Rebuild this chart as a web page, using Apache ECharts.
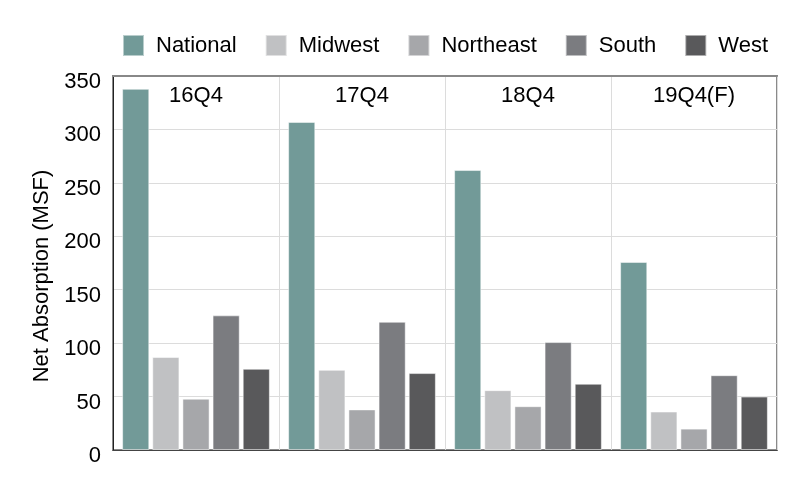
<!DOCTYPE html>
<html>
<head>
<meta charset="utf-8">
<script src="https://cdn.jsdelivr.net/npm/echarts@6/dist/echarts.min.js"></script>
<style>
html,body{margin:0;padding:0;background:#fff;}
#chart{width:800px;height:483px;}
</style>
</head>
<body>
<div id="chart"></div>
<script>
const categories = ['16Q4', '17Q4', '18Q4', '19Q4(F)'];
const seriesNames = ['National', 'Midwest', 'Northeast', 'South', 'West'];
const national = [338, 307, 262, 176];
const midwest = [87, 75, 56, 36];
const northeast = [48, 38, 41, 20];
const south = [126, 120, 101, 70];
const west = [76, 72, 62, 50];
const colors = ['#729a98', '#c0c1c3', '#a6a7aa', '#7b7c80', '#59595b'];
const yTicks = { min: 0, max: 350, interval: 50 };

const values = [national, midwest, northeast, south, west];
const FONT = '"Liberation Sans", Arial, Helvetica, sans-serif';

const chart = echarts.init(document.getElementById('chart'), null, { renderer: 'canvas' });
chart.setOption({
  animation: false,
  backgroundColor: '#fff',
  color: colors,
  textStyle: { fontFamily: FONT },
  legend: {
    top: 29,
    left: 117,
    itemWidth: 21,
    itemHeight: 21,
    itemGap: 28,
    icon: 'rect',
    textStyle: { fontSize: 22, color: '#000', fontFamily: FONT, padding: [0, 0, 0, 7] },
    data: seriesNames
  },
  grid: {
    left: 113, right: 23, top: 76, bottom: 33,
    show: true, borderColor: '#8a8a8a', borderWidth: 2, backgroundColor: 'transparent'
  },
  xAxis: [
    {
      type: 'category',
      data: categories,
      position: 'bottom',
      axisLine: { show: true, lineStyle: { color: '#444', width: 1 } },
      axisTick: { show: false },
      axisLabel: { show: false },
      splitLine: { show: true, lineStyle: { color: '#dcdcdc', width: 1 } }
    },
    {
      type: 'category',
      data: categories,
      position: 'top',
      axisLine: { show: true, lineStyle: { color: '#888', width: 2 } },
      axisTick: { show: false },
      axisLabel: { show: true, inside: true, margin: 9, fontSize: 22, color: '#000', fontFamily: FONT },
      splitLine: { show: false }
    }
  ],
  yAxis: {
    type: 'value',
    min: yTicks.min, max: yTicks.max, interval: yTicks.interval,
    name: 'Net Absorption (MSF)',
    nameLocation: 'middle',
    nameGap: 59,
    nameTextStyle: { fontSize: 22, color: '#000', fontFamily: FONT, padding: [0, 26, 0, 0] },
    axisLine: { show: true, lineStyle: { color: '#222', width: 1 } },
    axisTick: { show: false },
    axisLabel: {
      margin: 12,
      formatter: '{t|{value}}',
      rich: { t: { fontSize: 22, color: '#000', fontFamily: FONT, padding: [12, 0, 0, 0] } }
    },
    splitLine: { show: true, lineStyle: { color: '#dcdcdc', width: 1 } }
  },
  series: seriesNames.map((name, i) => ({
    name: name,
    type: 'bar',
    xAxisIndex: 0,
    data: values[i],
    barGap: '11%',
    barCategoryGap: '11%',
    itemStyle: { color: colors[i], borderColor: 'rgba(255,255,255,0.5)', borderWidth: 1 }
  }))
});
</script>
</body>
</html>
